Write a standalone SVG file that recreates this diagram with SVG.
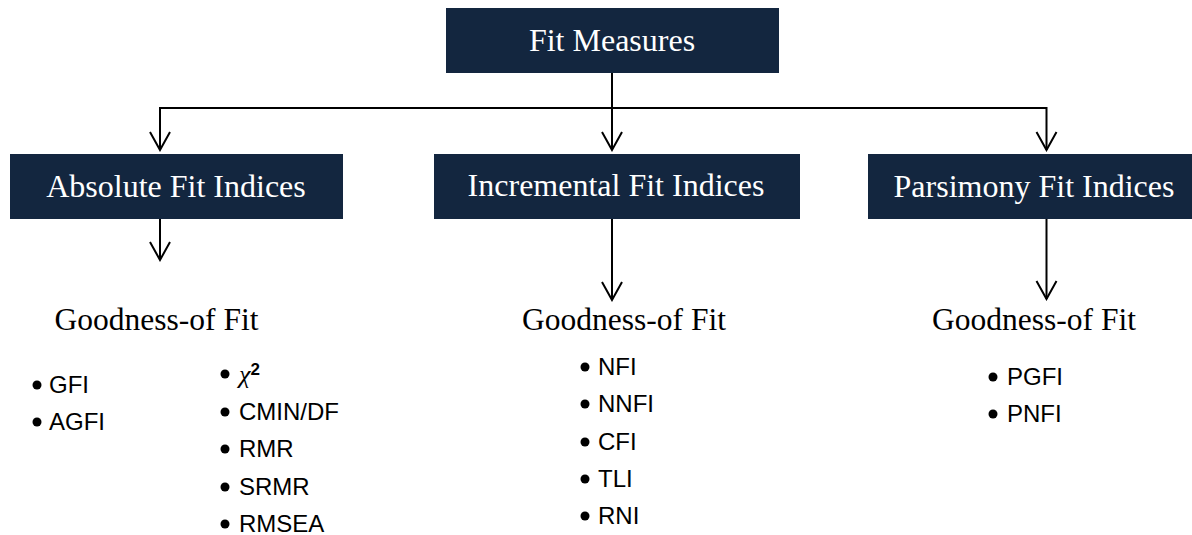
<svg xmlns="http://www.w3.org/2000/svg" width="1192" height="535" viewBox="0 0 1192 535">
<style>
.box{fill:#13263f}
.bt{font-family:"Liberation Serif","Times New Roman",serif;font-size:32px;fill:#ffffff;text-anchor:middle}
.gt{font-family:"Liberation Serif","Times New Roman",serif;font-size:31.5px;fill:#000000;text-anchor:middle}
.it{font-family:"Liberation Sans",Arial,sans-serif;font-size:24px;fill:#000000}
.dot{fill:#000000}
.con{fill:none;stroke:#000000;stroke-width:2}
</style>
<defs>
<marker id="arr" viewBox="-20 -12 22 24" refX="0" refY="0" markerWidth="22" markerHeight="24" markerUnits="userSpaceOnUse" orient="auto">
<path d="M-18,-10 L0,0 L-18,10" fill="none" stroke="#000000" stroke-width="2"/>
</marker>
</defs>
<rect width="1192" height="535" fill="#ffffff"/>
<g id="connectors">
<path class="con" d="M612,73 V150" marker-end="url(#arr)"/>
<path class="con" d="M612,108 H160 V150" marker-end="url(#arr)"/>
<path class="con" d="M612,108 H1046.5 V150" marker-end="url(#arr)"/>
<path class="con" d="M160,219 V260" marker-end="url(#arr)"/>
<path class="con" d="M612,219 V300" marker-end="url(#arr)"/>
<path class="con" d="M1046.5,219 V299" marker-end="url(#arr)"/>
</g>
<g id="fit-measures">
<rect class="box" x="446" y="8" width="333" height="65"/>
<text class="bt" x="612" y="51">Fit Measures</text>
</g>
<g id="absolute">
<rect class="box" x="10" y="154" width="333" height="65"/>
<text class="bt" x="176" y="197">Absolute Fit Indices</text>
</g>
<g id="incremental">
<rect class="box" x="434" y="154" width="366" height="65"/>
<text class="bt" x="616" y="196">Incremental Fit Indices</text>
</g>
<g id="parsimony">
<rect class="box" x="868" y="154" width="324" height="65"/>
<text class="bt" x="1034" y="197">Parsimony Fit Indices</text>
</g>
<g id="absolute-list">
<text class="gt" x="156.5" y="330">Goodness-of Fit</text>
<circle class="dot" cx="37" cy="385" r="4.5"/><text class="it" x="49" y="393">GFI</text>
<circle class="dot" cx="37" cy="422" r="4.5"/><text class="it" x="49" y="430">AGFI</text>
<circle class="dot" cx="225" cy="374" r="4.5"/><text class="it" x="239" y="383"><tspan font-family="Liberation Serif, serif" font-style="italic" font-size="26px">χ</tspan><tspan font-weight="bold" font-size="17px" dy="-8">2</tspan></text>
<circle class="dot" cx="225" cy="412" r="4.5"/><text class="it" x="239" y="420">CMIN/DF</text>
<circle class="dot" cx="225" cy="449" r="4.5"/><text class="it" x="239" y="457">RMR</text>
<circle class="dot" cx="225" cy="487" r="4.5"/><text class="it" x="239" y="495">SRMR</text>
<circle class="dot" cx="225" cy="524" r="4.5"/><text class="it" x="239" y="532">RMSEA</text>
</g>
<g id="incremental-list">
<text class="gt" x="624" y="330">Goodness-of Fit</text>
<circle class="dot" cx="585" cy="367" r="4.5"/><text class="it" x="598" y="375">NFI</text>
<circle class="dot" cx="585" cy="404" r="4.5"/><text class="it" x="598" y="412">NNFI</text>
<circle class="dot" cx="585" cy="442" r="4.5"/><text class="it" x="598" y="450">CFI</text>
<circle class="dot" cx="585" cy="479" r="4.5"/><text class="it" x="598" y="487">TLI</text>
<circle class="dot" cx="585" cy="516" r="4.5"/><text class="it" x="598" y="524">RNI</text>
</g>
<g id="parsimony-list">
<text class="gt" x="1034" y="330">Goodness-of Fit</text>
<circle class="dot" cx="993" cy="377" r="4.5"/><text class="it" x="1007" y="385">PGFI</text>
<circle class="dot" cx="993" cy="414" r="4.5"/><text class="it" x="1007" y="422">PNFI</text>
</g>
</svg>
